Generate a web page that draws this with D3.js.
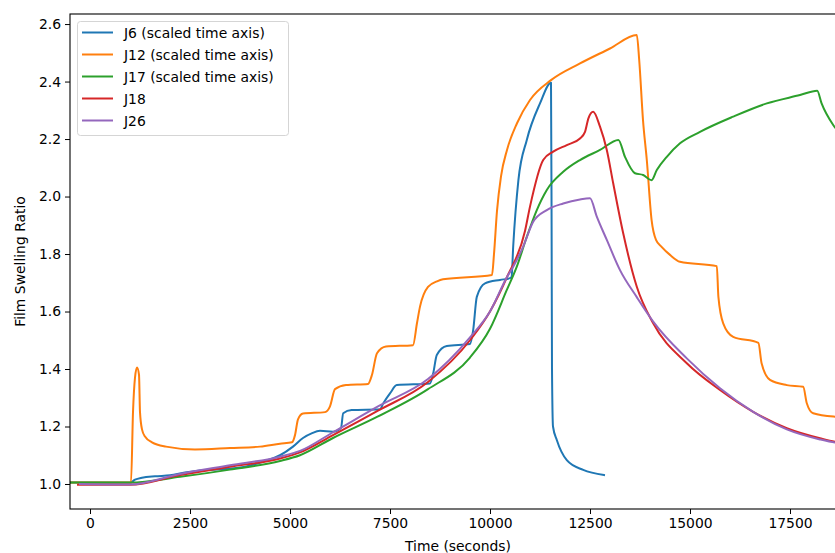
<!DOCTYPE html>
<html>
<head>
<meta charset="utf-8">
<script src="https://cdn.jsdelivr.net/npm/d3@7"></script>
<style>
  body { margin: 0; background: #fff; }
  svg { font-family: "DejaVu Sans", sans-serif; display: block; }
</style>
</head>
<body>
<div id="chart"></div>
<script>
'use strict';

// [time (s), swelling ratio]
const j6 = [[-500,1.005],[1000,1.004],[1125,1.015],[1300,1.022],[1625,1.027],[2000,1.03],[2375,1.04],[2750,1.047],
  [3375,1.052],[3875,1.06],[4375,1.08],[4750,1.1],[5075,1.13],[5325,1.16],[5540,1.176],[5750,1.185],[6075,1.182],
  [6275,1.195],[6330,1.246],[6540,1.257],[7250,1.26],[7330,1.28],[7500,1.315],[7670,1.344],[8500,1.35],
  [8580,1.385],[8670,1.449],[8920,1.48],[9500,1.487],[9580,1.536],[9670,1.651],[9875,1.698],[10250,1.71],
  [10500,1.716],[10540,1.721],[10580,1.826],[10710,2.057],[10920,2.197],[11250,2.324],[11525,2.396],
  [11540,1.9],[11550,1.4],[11575,1.2],[11670,1.153],[11920,1.083],[12330,1.049],[12850,1.031]];

const j12 = [[-500,1.005],[1025,1.005],[1075,1.25],[1125,1.37],[1175,1.405],[1225,1.38],[1250,1.25],[1300,1.19],
  [1375,1.165],[1550,1.145],[1900,1.13],[2625,1.12],[3500,1.125],[4250,1.13],[4750,1.14],[5050,1.145],
  [5125,1.17],[5200,1.225],[5325,1.245],[5875,1.25],[6000,1.27],[6125,1.33],[6400,1.344],[6950,1.348],
  [7050,1.38],[7175,1.455],[7400,1.478],[8075,1.483],[8175,1.56],[8250,1.617],[8450,1.686],[8675,1.705],
  [8825,1.712],[10050,1.727],[10100,1.8],[10175,1.95],[10275,2.07],[10425,2.162],[10675,2.255],[11000,2.336],
  [11525,2.405],[12250,2.463],[13000,2.515],[13670,2.562],[13730,2.475],[13825,2.266],[13920,2.127],
  [14040,1.918],[14150,1.849],[14290,1.825],[14500,1.797],[14750,1.773],[15670,1.758],[15710,1.651],
  [15830,1.559],[16080,1.512],[16710,1.491],[16790,1.42],[17000,1.362],[17420,1.344],[17830,1.338],
  [17920,1.281],[18080,1.246],[18625,1.234],[18900,1.232]];

const j17 = [[-500,1.005],[1000,1.005],[2250,1.025],[3500,1.05],[4750,1.08],[5250,1.1],[6075,1.16],[7200,1.235],
  [8450,1.33],[9500,1.44],[10000,1.54],[10420,1.675],[10670,1.756],[10920,1.86],[11170,1.953],[11420,2.023],
  [11830,2.086],[12250,2.127],[12750,2.162],[13210,2.197],[13375,2.138],[13625,2.081],[13830,2.075],
  [14040,2.057],[14170,2.092],[14420,2.138],[14750,2.185],[15250,2.225],[16080,2.278],[16920,2.324],
  [17750,2.353],[18180,2.368],[18290,2.324],[18580,2.249],[18900,2.2]];

const j18 = [[-300,0.997],[1000,0.997],[2250,1.031],[3500,1.06],[4750,1.089],[5250,1.11],[6075,1.17],
  [7200,1.255],[8450,1.355],[9500,1.5],[10000,1.6],[10425,1.72],[10875,1.88],[11000,1.965],[11330,2.127],
  [11580,2.156],[11920,2.179],[12250,2.202],[12375,2.225],[12460,2.272],[12580,2.295],[12750,2.243],
  [12920,2.162],[13080,2.046],[13330,1.872],[13670,1.686],[14080,1.559],[14920,1.42],[15750,1.327],
  [16580,1.251],[17420,1.194],[18250,1.159],[18625,1.147],[18900,1.143]];

const j26 = [[-250,1.0],[1000,0.998],[2250,1.035],[3500,1.065],[4750,1.095],[5250,1.115],[6075,1.18],
  [7200,1.27],[8450,1.365],[9500,1.51],[10000,1.6],[10425,1.72],[10580,1.756],[10830,1.826],[11080,1.912],
  [11420,1.953],[11830,1.976],[12250,1.99],[12500,1.994],[12670,1.93],[12920,1.849],[13250,1.744],
  [13670,1.65],[14080,1.565],[14920,1.437],[15750,1.333],[16580,1.251],[17420,1.19],
  [18250,1.155],[18625,1.144],[18900,1.14]];

const seriesNames = ['J6 (scaled time axis)', 'J12 (scaled time axis)', 'J17 (scaled time axis)', 'J18', 'J26'];
const seriesData = [j6, j12, j17, j18, j26];
const colors = ['#1f77b4', '#ff7f0e', '#2ca02c', '#d62728', '#9467bd'];
const xTicks = [0, 2500, 5000, 7500, 10000, 12500, 15000, 17500];
const yTicks = [1.0, 1.2, 1.4, 1.6, 1.8, 2.0, 2.2, 2.4, 2.6];

const W = 835, H = 553;
const margin = {top: 14, left: 70, right: 846, bottom: 509};

const x = d3.scaleLinear().domain([-500, 18900]).range([margin.left, margin.right]);
const y = d3.scaleLinear().domain([0.913, 2.635]).range([margin.bottom, margin.top]);

const svg = d3.select('#chart').append('svg')
  .attr('width', W)
  .attr('height', H);

svg.append('defs').append('clipPath').attr('id', 'plot')
  .append('rect')
    .attr('x', margin.left).attr('y', margin.top)
    .attr('width', margin.right - margin.left).attr('height', margin.bottom - margin.top);

const line = d3.line()
  .x(d => x(d[0]))
  .y(d => y(d[1]))
  .curve(d3.curveMonotoneX);

const plot = svg.append('g').attr('clip-path', 'url(#plot)');
seriesData.forEach((s, i) => {
  plot.append('path')
    .datum(s)
    .attr('d', line)
    .attr('fill', 'none')
    .attr('stroke', colors[i])
    .attr('stroke-width', 2)
    .attr('stroke-linejoin', 'round')
    .attr('stroke-linecap', 'square');
});

// axes
const xAxis = d3.axisBottom(x).tickValues(xTicks).tickFormat(d3.format('d')).tickSizeOuter(0).tickSize(5).tickPadding(4);
const yAxis = d3.axisLeft(y).tickValues(yTicks).tickFormat(d3.format('.1f')).tickSizeOuter(0).tickSize(5).tickPadding(4);

const gx = svg.append('g').attr('transform', `translate(0,${margin.bottom})`).call(xAxis);
const gy = svg.append('g').attr('transform', `translate(${margin.left},0)`).call(yAxis);

[gx, gy].forEach(g => {
  g.select('.domain').remove();
  g.selectAll('.tick line').attr('stroke', '#000').attr('stroke-width', 1);
  g.selectAll('.tick text').attr('fill', '#000').style('font-size', '13.9px').style('font-family', 'DejaVu Sans');
});

// spines
svg.append('rect')
  .attr('x', margin.left).attr('y', margin.top)
  .attr('width', margin.right - margin.left).attr('height', margin.bottom - margin.top)
  .attr('fill', 'none').attr('stroke', '#000').attr('stroke-width', 1.1);

svg.append('text')
  .attr('x', (margin.left + margin.right) / 2)
  .attr('y', 551)
  .attr('text-anchor', 'middle')
  .style('font-size', '13.9px')
  .text('Time (seconds)');

svg.append('text')
  .attr('transform', `translate(25,${(margin.top + margin.bottom) / 2}) rotate(-90)`)
  .attr('text-anchor', 'middle')
  .style('font-size', '13.9px')
  .text('Film Swelling Ratio');

// legend
const legend = svg.append('g');
legend.append('rect')
  .attr('x', 77.5).attr('y', 21.5)
  .attr('width', 211).attr('height', 114)
  .attr('rx', 3)
  .attr('fill', '#fff').attr('fill-opacity', 0.8)
  .attr('stroke', '#d5d5d5');

seriesNames.forEach((name, i) => {
  const ly = 32.5 + i * 22;
  legend.append('line')
    .attr('x1', 82).attr('x2', 113)
    .attr('y1', ly).attr('y2', ly)
    .attr('stroke', colors[i]).attr('stroke-width', 2);
  legend.append('text')
    .attr('x', 124).attr('y', ly + 5)
    .style('font-size', '13.9px')
    .text(name);
});
</script>
</body>
</html>
